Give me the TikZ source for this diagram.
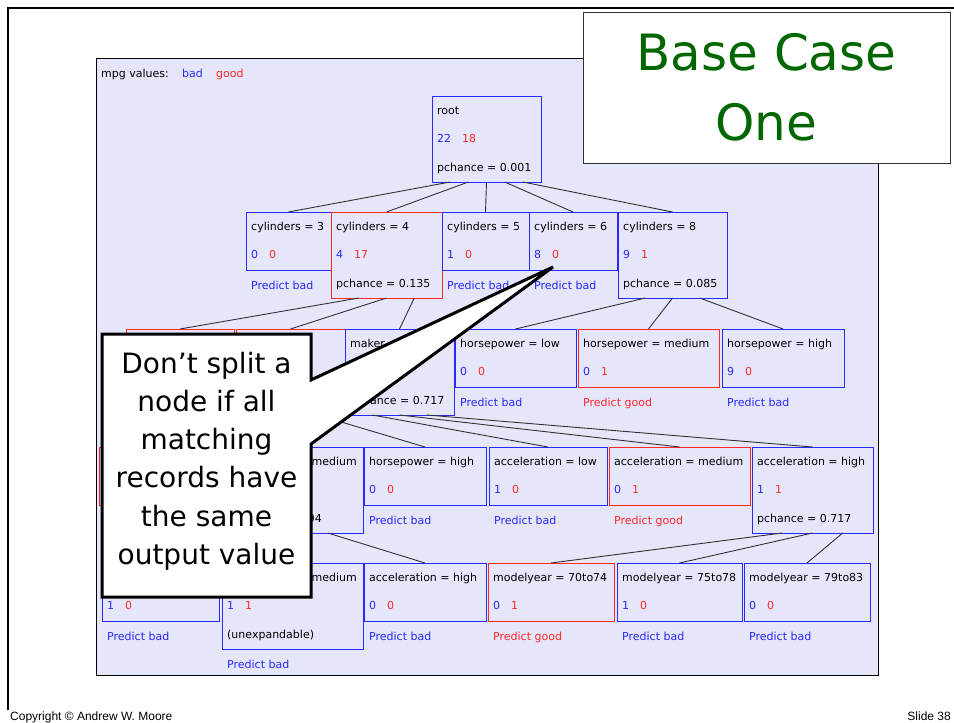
\documentclass[tikz,border=0pt]{standalone}
\usepackage{fontspec}
\setmainfont{DejaVu Sans}
\newfontfamily\footfont{Liberation Sans}
\usetikzlibrary{calc}

\definecolor{panelbg}{RGB}{230,230,250}
\definecolor{tblue}{RGB}{40,40,255}
\definecolor{tred}{RGB}{255,40,40}
\definecolor{tgreen}{RGB}{0,102,0}
\definecolor{tline}{RGB}{50,50,50}

\tikzset{
    tbox/.style={draw=#1, line width=1pt, rectangle, inner sep=0pt, outer sep=0pt, anchor=north west},
    ttext/.style={font=\fontsize{11}{13}\selectfont, inner sep=0pt, anchor=base west},
    tedge/.style={draw=tline, line width=0.9pt}
}

\begin{document}
\begin{tikzpicture}[x=1pt,y=-1pt]
            \useasboundingbox (0,0) rectangle (954,723);
            \draw[line width=2.5pt] (8,710) -- (8,8) -- (954,8);
            \draw[fill=panelbg, draw=black, line width=0.8pt] (96,58) rectangle (878,675);
            \node[ttext] (mpg) at (101,77) {mpg values:};
            \node[ttext, text=tblue] (mpgbad) at (182,77) {bad};
            \node[ttext, text=tred] (mpggood) at (216,77) {good};
            \foreach \n/\x/\y/\w/\h/\col in {root/432/96/109/86/tblue,
                c3/246/212/85/58/tblue, c4/331/212/111/86/tred, c5/442/212/87/58/tblue,
                c6/529/212/88/58/tblue, c8/618/212/109/86/tblue,
                mA/126/329/108/58/tred, mB/236/329/109/86/tred, mk/345/329/109/86/tblue,
                hl/455/329/121/58/tblue, hm/578/329/141/58/tred, hh/722/329/122/58/tblue,
                hC/99/447/121/58/tred, hD/222/447/141/86/tblue, hH/364/447/122/58/tblue,
                aL/489/447/118/58/tblue, aM/609/447/141/58/tred, aH/752/447/121/86/tblue,
                aE/102/563/117/58/tblue, aF/222/563/141/86/tblue, aH2/364/563/122/58/tblue,
                y1/488/563/126/58/tred, y2/617/563/125/58/tblue, y3/744/563/126/58/tblue}
                {\node[tbox=\col, minimum width=\w, minimum height=\h] (\n) at (\x,\y) {};}
            \foreach \n/\txt in {root/root, c3/cylinders = 3, c4/cylinders = 4, c5/cylinders = 5,
                c6/cylinders = 6, c8/cylinders = 8, mk/maker, hl/horsepower = low,
                hm/horsepower = medium, hh/horsepower = high, hH/horsepower = high,
                aL/acceleration = low, aM/acceleration = medium, aH/acceleration = high,
                aH2/acceleration = high, y1/modelyear = 70to74, y2/modelyear = 75to78,
                y3/modelyear = 79to83}
                {\node[ttext] (\n-t) at ([shift={(5,18)}]\n.north west) {\txt};}
            \foreach \n in {hD,aF}
                {\node[ttext, anchor=base east] (\n-t) at ([shift={(-6,18)}]\n.north east) {medium};}
            \foreach \n/\na/\nb in {root/22/18, c3/0/0, c4/4/17, c5/1/0, c6/8/0, c8/9/1,
                hl/0/0, hm/0/1, hh/9/0, hH/0/0, aL/1/0, aM/0/1, aH/1/1,
                aE/1/0, aF/1/1, aH2/0/0, y1/0/1, y2/1/0, y3/0/0}
                {\node[ttext] (\n-n) at ([shift={(5,46)}]\n.north west) {\textcolor{tblue}{\na}\hspace{11pt}\textcolor{tred}{\nb}};}
            \foreach \n/\txt in {root/pchance = 0.001, c4/pchance = 0.135, c8/pchance = 0.085,
                mk/pchance = 0.717, aH/pchance = 0.717, aF/{(unexpandable)}}
                {\node[ttext] (\n-p) at ([shift={(5,75)}]\n.north west) {\txt};}
            \node[ttext, anchor=base east] (hD-p) at ([shift={(100,75)}]hD.north west) {94};
            \foreach \n/\col/\txt in {c3/tblue/bad, c5/tblue/bad, c6/tblue/bad, hl/tblue/bad,
                hm/tred/good, hh/tblue/bad, hH/tblue/bad, aL/tblue/bad, aM/tred/good,
                aE/tblue/bad, aF/tblue/bad, aH2/tblue/bad, y1/tred/good, y2/tblue/bad, y3/tblue/bad}
                {\node[ttext, text=\col] (\n-pr) at ([shift={(5,19)}]\n.south west) {Predict \txt};}
            \foreach \p/\ch/\k/\m in {root/c3/1/6, root/c4/2/6, root/c5/3/6, root/c6/4/6, root/c8/5/6,
                c4/mA/1/4, c4/mB/2/4, c4/mk/3/4, c8/hl/1/4, c8/hm/2/4, c8/hh/3/4,
                mB/hH/3/4, mk/aL/1/4, mk/aM/2/4, mk/aH/3/4, hD/aH2/3/4,
                aH/y1/1/4, aH/y2/2/4, aH/y3/3/4}
                {\draw[tedge] ($(\p.south west)!\k/\m!(\p.south east)$) -- (\ch.north);}
            \node[draw=tline, fill=white, line width=0.8pt, minimum width=367, minimum height=151,
                inner sep=0pt, align=center, text=tgreen, font=\fontsize{50}{70}\selectfont]
                (title) at (766.5,87.5) {Base Case\\One};
            \coordinate (tip) at (553,267);
            \draw[fill=white, line width=3pt] (102,334) -- (311,334) -- (311,380) -- (tip)
                -- (311,444) -- (311,597) -- (102,597) -- cycle;
            \node[align=center, inner sep=0pt, font=\fontsize{28}{38.2}\selectfont] (note) at (206.5,461)
                {Don’t split a\\node if all\\matching\\records have\\the same\\output value};
            \node[font=\footfont\fontsize{12}{14}\selectfont, inner sep=0pt, anchor=base west] (copy) at (10,720) {Copyright © Andrew W. Moore};
            \node[font=\footfont\fontsize{12}{14}\selectfont, inner sep=0pt, anchor=base east] (slide) at (951,720) {Slide 38};
        \end{tikzpicture}
\end{document}
